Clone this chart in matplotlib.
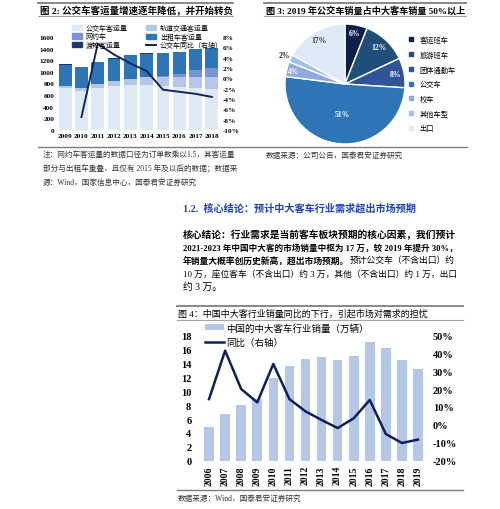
"""
Report page: bus passenger volume, 2019 bus sales mix, and mid/large bus sales.
"""

import matplotlib
matplotlib.use("Agg")
import matplotlib.pyplot as plt
from matplotlib.lines import Line2D
from matplotlib.patches import Patch
import numpy as np

plt.rcParams["font.family"] = ["Liberation Serif", "Noto Sans CJK SC"]

# ---- Figure 2 data: urban passenger volume (100m trips) ----
years_2 = ["2009", "2010", "2011", "2012", "2013", "2014", "2015", "2016", "2017", "2018"]
bus_volume = [725, 671, 716, 749, 771, 782, 765, 745, 723, 697]
rail_volume = [30, 56, 71, 87, 109, 126, 140, 161, 185, 213]
ride_hail = [0, 0, 0, 0, 0, 0, 25, 55, 120, 150]
taxi_volume = [370, 355, 388, 392, 402, 406, 397, 377, 365, 351]
ferry_volume = [3, 3, 3, 3, 3, 3, 3, 3, 3, 3]
bus_yoy = [np.nan, -7.5, 6.7, 4.6, 2.9, 1.4, -2.2, -2.6, -3.0, -3.6]
labels_2 = ["公交车客运量", "网约车", "渡轮客运量", "轨道交通客运量", "出租车客运量", "公交车同比（右轴）"]

# ---- Figure 3 data: 2019 mid/large bus sales mix ----
pie_labels = ["客运班车", "旅游班车", "团体通勤车", "公交车", "校车", "其他车型", "出口"]
pie_shares = [6, 12, 8, 51, 4, 2, 17]

# ---- Figure 4 data: China mid/large bus sales ----
years_4 = [str(y) for y in range(2006, 2020)]
sales_4 = [4.8, 6.7, 8.0, 8.8, 11.8, 13.6, 14.6, 14.8, 14.5, 15.0, 17.0, 16.1, 14.4, 13.2]
yoy_4 = [14.4, 41.3, 20.0, 12.6, 33.9, 14.4, 7.6, 2.8, -1.7, 3.7, 13.9, -5.0, -10.0, -8.1]

W, H = 500, 510


def box(x0, y0, x1, y1):
    """Pixel box (top-left origin) to figure fraction rect."""
    return [x0 / W, 1 - y1 / H, (x1 - x0) / W, (y1 - y0) / H]


def hline(fig, x0, x1, y, color="#8c8c8c", lw=1.0):
    fig.add_artist(Line2D([x0 / W, x1 / W], [1 - y / H, 1 - y / H],
                          transform=fig.transFigure, color=color, linewidth=lw))


def ftext(fig, x, y, s, **kw):
    kw.setdefault("va", "center")
    return fig.text(x / W, 1 - y / H, s, **kw)


def para_line(fig, x, y, parts, size, max_width=None):
    """Draw one paragraph line made of (text, weight) parts; shrink it to max_width px."""
    texts = []
    for s, weight in parts:
        if not texts:
            t = ftext(fig, x, y, s, fontsize=size, fontweight=weight)
        else:
            t = fig.axes[0].annotate(s, xy=(1, 0.5), xycoords=texts[-1], va="center", ha="left",
                                     fontsize=size, fontweight=weight, annotation_clip=False)
        texts.append(t)
    if max_width:
        renderer = fig.canvas.get_renderer()
        width = sum(t.get_window_extent(renderer).width for t in texts)
        if width > max_width:
            for t in texts:
                t.set_fontsize(size * max_width / width)
    return texts


fig = plt.figure(figsize=(W / 100, H / 100), dpi=100)

# ---------------- Figure 2 ----------------
hline(fig, 38, 233, 4, color="#7f7f7f", lw=1.3)
ftext(fig, 40, 11, "图 2: 公交车客运量增速逐年降低，并开始转负", fontsize=6.8, fontweight="bold")
hline(fig, 38, 233, 17, color="#a6a6a6", lw=0.8)

ax2 = fig.add_axes(box(57, 38, 220, 131))
x2 = np.arange(len(years_2))
stack_colors = ["#deebf7", "#b4c7e7", "#7a92d6", "#2e75b6", "#1f3864"]
bottom = np.zeros(len(years_2))
for vals, col in zip([bus_volume, rail_volume, ride_hail, taxi_volume, ferry_volume], stack_colors):
    ax2.bar(x2, vals, bottom=bottom, width=0.78, color=col, zorder=2)
    bottom += np.array(vals)
ax2.set_ylim(0, 1600)
ax2.set_xlim(-0.5, len(years_2) - 0.5)
ax2.set_yticks(range(0, 1601, 200))
ax2.set_xticks(x2)
ax2.set_xticklabels(years_2)
ax2.tick_params(length=0, labelsize=5.2, pad=2)
for lab in ax2.get_xticklabels() + ax2.get_yticklabels():
    lab.set_fontweight("bold")
for sp in ax2.spines.values():
    sp.set_visible(False)

ax2r = ax2.twinx()
ax2r.plot(x2, bus_yoy, color="#13235c", linewidth=1.4, zorder=5)
ax2r.set_ylim(-10, 8)
ax2r.set_yticks(range(-10, 9, 2))
ax2r.set_yticklabels([f"{v}%" for v in range(-10, 9, 2)])
ax2r.tick_params(length=0, labelsize=5.2, pad=2)
for lab in ax2r.get_yticklabels():
    lab.set_fontweight("bold")
for sp in ax2r.spines.values():
    sp.set_visible(False)

handles_2 = [Patch(color=stack_colors[0]), Patch(color=stack_colors[2]), Patch(color=stack_colors[4]),
             Patch(color=stack_colors[1]), Patch(color=stack_colors[3]),
             Line2D([], [], color="#13235c", linewidth=1.4)]
fig.legend(handles_2, labels_2, ncol=2, loc="upper left", bbox_to_anchor=(72 / W, 1 - 25 / H),
           fontsize=5, frameon=False, handlelength=1.5, handleheight=0.8, handletextpad=0.5,
           labelspacing=0.2, columnspacing=2.6, borderaxespad=0, borderpad=0)

# ---------------- Figure 3 ----------------
hline(fig, 264, 466, 4, color="#7f7f7f", lw=1.3)
ftext(fig, 266, 11, "图 3: 2019 年公交车销量占中大客车销量 50%以上", fontsize=6.6, fontweight="bold")
hline(fig, 264, 466, 17, color="#a6a6a6", lw=0.8)

ax3 = fig.add_axes(box(285, 25, 405, 145))
pie_colors = ["#0b1f4f", "#1f4e79", "#2f5597", "#2e75b6", "#8faadc", "#9dc3e6", "#deebf7"]
ax3.pie(pie_shares, colors=pie_colors, startangle=90, counterclock=False, radius=1,
        wedgeprops=dict(edgecolor="white", linewidth=1.0))
ax3.set_xlim(-1.0, 1.0)
ax3.set_ylim(-1.0, 1.0)
ax3.set_aspect("equal")
label_r = [0.86, 0.84, 0.85, 0.5, 0.88, 1.12, 0.86]
label_c = ["white", "white", "white", "white", "white", "#1f1f1f", "#1f3864"]
cum = np.cumsum(pie_shares)
for share, c, r, tc in zip(pie_shares, cum, label_r, label_c):
    theta = np.deg2rad(90 - 360 * (c - share / 2) / sum(pie_shares))
    ax3.text(r * np.cos(theta), r * np.sin(theta), f"{share}%", ha="center", va="center",
             fontsize=5.5, fontweight="bold", color=tc)

handles_3 = [Line2D([], [], marker="s", linestyle="none", markersize=3.0, color=c) for c in pie_colors]
fig.legend(handles_3, pie_labels, loc="upper left", bbox_to_anchor=(408 / W, 1 - 36 / H),
           fontsize=5.2, frameon=False, handlelength=0.8, handletextpad=0.8,
           labelspacing=1.05, borderaxespad=0, borderpad=0)

# bottom rule and notes
hline(fig, 38, 467, 148, color="#7f7f7f", lw=1.0)
notes = ["注：网约车客运量的数据口径为订单数乘以1.5，其客运量",
         "部分与出租车重叠，且仅有 2015 年及以后的数据；数据来",
         "源：Wind，国家信息中心，国泰君安证券研究"]
for i, s in enumerate(notes):
    ftext(fig, 43, 156 + 13.3 * i, s, fontsize=5.5, color="#333333")
ftext(fig, 266, 156, "数据来源：公司公告，国泰君安证券研究", fontsize=5.5, color="#333333")

# ---------------- Section text ----------------
ftext(fig, 183, 209, "1.2.  核心结论：预计中大客车行业需求超出市场预期", fontsize=7.3,
      fontweight="bold", color="#1f3fbf")
para_w = 274
para_line(fig, 183, 235, [("核心结论：行业需求是当前客车板块预期的核心因素，我们预计", "bold")], 7, para_w)
para_line(fig, 183, 248, [("2021-2023 年中国中大客的市场销量中枢为 17 万，较 2019 年提升 30%，", "bold")],
          7, para_w)
para_line(fig, 183, 261, [("年销量大概率创历史新高，超出市场预期。", "bold"),
                          ("预计公交车（不含出口）约", "normal")], 7, para_w)
para_line(fig, 183, 274, [("10 万，座位客车（不含出口）约 3 万，其他（不含出口）约 1 万，出口", "normal")],
          7, para_w)
para_line(fig, 183, 287, [("约 3 万。", "normal")], 7)

# ---------------- Figure 4 ----------------
hline(fig, 177, 463, 307, color="#7f7f7f", lw=1.3)
ftext(fig, 178, 314, "图 4：中国中大客行业销量同比的下行，引起市场对需求的担忧", fontsize=6.5)
hline(fig, 177, 463, 321, color="#a6a6a6", lw=0.8)

ax4 = fig.add_axes(box(201, 336, 426, 462))
x4 = np.arange(len(years_4))
ax4.bar(x4, sales_4, width=0.6, color="#b4c7e7", zorder=2, label="中国的中大客车行业销量（万辆）")
ax4.set_ylim(0, 18)
ax4.set_xlim(-0.5, len(years_4) - 0.5)
ax4.set_yticks(range(0, 19, 2))
ax4.set_xticks(x4)
ax4.set_xticklabels(years_4, rotation=90)
ax4.tick_params(axis="y", length=0, labelsize=7.5, pad=7)
ax4.tick_params(axis="x", length=0, labelsize=7, pad=3)
for lab in ax4.get_xticklabels() + ax4.get_yticklabels():
    lab.set_fontweight("bold")
for sp in ax4.spines.values():
    sp.set_visible(False)

ax4r = ax4.twinx()
ax4r.plot(x4, yoy_4, color="#0e1f5b", linewidth=1.8, label="同比（右轴）")
ax4r.set_ylim(-20, 50)
ax4r.set_yticks(range(-20, 51, 10))
ax4r.set_yticklabels([f"{v}%" for v in range(-20, 51, 10)])
ax4r.tick_params(length=0, labelsize=7.5, pad=5)
for lab in ax4r.get_yticklabels():
    lab.set_fontweight("bold")
for sp in ax4r.spines.values():
    sp.set_visible(False)

h1, l1 = ax4.get_legend_handles_labels()
h2, l2 = ax4r.get_legend_handles_labels()
ax4r.legend(h1 + h2, l1 + l2, loc="upper left", bbox_to_anchor=(4 / 225, 1 + 12 / 126),
            fontsize=6.8, frameon=False, handlelength=2.0, handleheight=0.6, handletextpad=0.2,
            labelspacing=0.55, borderaxespad=0, borderpad=0)

hline(fig, 177, 463, 491, color="#7f7f7f", lw=1.0)
ftext(fig, 178, 499, "数据来源：Wind，国泰君安证券研究", fontsize=5.5, color="#333333")

fig.savefig("out.png", dpi=100)
